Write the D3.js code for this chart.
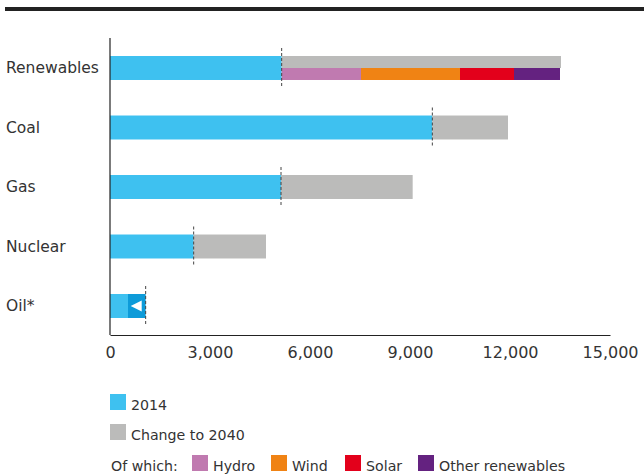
<!DOCTYPE html>
<html>
<head>
<meta charset="utf-8">
<script src="https://cdn.jsdelivr.net/npm/d3@7"></script>
<style>
  body { margin: 0; background: #fff; }
  svg { display: block; font-family: "DejaVu Sans", sans-serif; }
</style>
</head>
<body>
<svg></svg>
<script>
// data (TWh)
let categories = ['Renewables', 'Coal', 'Gas', 'Nuclear', 'Oil*']
let value2014 = [5150, 9670, 5130, 2510, 1070]
let value2040 = [13530, 11940, 9080, 4680, 540]
let renewParts = ['Hydro', 'Wind', 'Solar', 'Other renewables']
let renewValues = [2380, 2970, 1620, 1380]
let tickValues = [0, 3000, 6000, 9000, 12000, 15000]

let width = 644
let height = 475

let colBlue = '#3ec1f0'
let colDarkBlue = '#0d9bd9'
let colGray = '#bbbbba'
let partColors = ['#c07ab0', '#f08314', '#e3001b', '#642280']
let textCol = '#333'

let svg = d3.select('svg').attr('width', width).attr('height', height)

let xScale = d3.scaleLinear().domain([0, 15000]).range([110, 610])
let yScale = d3.scaleBand()
    .domain(categories)
    .range([38.25, 335.75])
    .paddingInner(0.597)
    .paddingOuter(0.2985)

// top rule
svg.append('rect')
   .attr('x', 5).attr('y', 7).attr('width', width - 5).attr('height', 4)
   .attr('fill', '#222')

let rows = categories.map((c, i) => ({ cat: c, v14: value2014[i], v40: value2040[i] }))
let bw = yScale.bandwidth()

// 2014 bars (up to the smaller of the two for decreasing series)
svg.selectAll('rect.base')
   .data(rows)
   .enter()
   .append('rect')
   .attr('class', 'base')
   .attr('x', xScale(0))
   .attr('y', d => yScale(d.cat))
   .attr('width', d => xScale(Math.min(d.v14, d.v40)) - xScale(0))
   .attr('height', bw)
   .attr('fill', colBlue)

// change to 2040 (increase = grey, decrease = dark blue)
svg.selectAll('rect.change')
   .data(rows)
   .enter()
   .append('rect')
   .attr('class', 'change')
   .attr('x', d => xScale(Math.min(d.v14, d.v40)))
   .attr('y', d => yScale(d.cat))
   .attr('width', d => Math.abs(xScale(d.v40) - xScale(d.v14)))
   .attr('height', d => d.cat == 'Renewables' ? bw / 2 : bw)
   .attr('fill', d => d.v40 >= d.v14 ? colGray : colDarkBlue)

// renewables breakdown
let acc = value2014[0]
let parts = renewParts.map((p, i) => {
    let s = acc
    acc += renewValues[i]
    return { name: p, start: s, end: acc, color: partColors[i] }
})
svg.selectAll('rect.part')
   .data(parts)
   .enter()
   .append('rect')
   .attr('class', 'part')
   .attr('x', d => xScale(d.start))
   .attr('y', yScale('Renewables') + bw / 2)
   .attr('width', d => xScale(d.end) - xScale(d.start))
   .attr('height', bw / 2)
   .attr('fill', d => d.color)

// decrease arrow for oil
rows.filter(d => d.v40 < d.v14).forEach(d => {
    let cy = yScale(d.cat) + bw / 2
    let x1 = xScale(d.v14) - 4
    svg.append('path')
       .attr('d', `M${x1 - 11},${cy} L${x1},${cy - 5.5} L${x1},${cy + 5.5} Z`)
       .attr('fill', '#fff')
})

// dashed 2014 markers
svg.selectAll('line.marker')
   .data(rows)
   .enter()
   .append('line')
   .attr('x1', d => xScale(d.v14))
   .attr('x2', d => xScale(d.v14))
   .attr('y1', d => yScale(d.cat) - 8)
   .attr('y2', d => yScale(d.cat) + bw + 8)
   .attr('stroke', '#444')
   .attr('stroke-width', 1)
   .attr('stroke-dasharray', '3,2')

// axes
let xAxis = d3.axisBottom(xScale).tickValues(tickValues).tickSize(0).tickPadding(12)
    .tickFormat(d3.format(','))
let gx = svg.append('g')
   .attr('transform', 'translate(0,335)')
   .call(xAxis)
gx.select('.domain').attr('stroke', '#222').attr('stroke-width', 1.2)
gx.selectAll('text').attr('font-size', 16).attr('fill', textCol)
   .attr('font-family', '"DejaVu Sans", sans-serif')

svg.append('line')
   .attr('x1', 110).attr('x2', 110).attr('y1', 38).attr('y2', 335)
   .attr('stroke', '#222').attr('stroke-width', 1.2)

// category labels
svg.selectAll('text.cat')
   .data(categories)
   .enter()
   .append('text')
   .attr('x', 6)
   .attr('y', d => yScale(d) + bw / 2)
   .attr('dy', '0.35em')
   .attr('font-size', 15.5)
   .attr('fill', textCol)
   .text(d => d)

// legend
let legend = svg.append('g').attr('font-size', 14.2).attr('fill', textCol)
let mainLegend = [{ label: '2014', color: colBlue }, { label: 'Change to 2040', color: colGray }]
mainLegend.forEach((d, i) => {
    let y = 394 + i * 30
    legend.append('rect').attr('x', 110).attr('y', y).attr('width', 16).attr('height', 16).attr('fill', d.color)
    legend.append('text').attr('x', 131).attr('y', y + 16).text(d.label)
})
legend.append('text').attr('x', 111).attr('y', 471).text('Of which:')
let legX = [192, 271, 345, 418]
renewParts.forEach((p, i) => {
    legend.append('rect').attr('x', legX[i]).attr('y', 455).attr('width', 16).attr('height', 16).attr('fill', partColors[i])
    legend.append('text').attr('x', legX[i] + 21).attr('y', 471).text(p)
})
</script>
</body>
</html>
